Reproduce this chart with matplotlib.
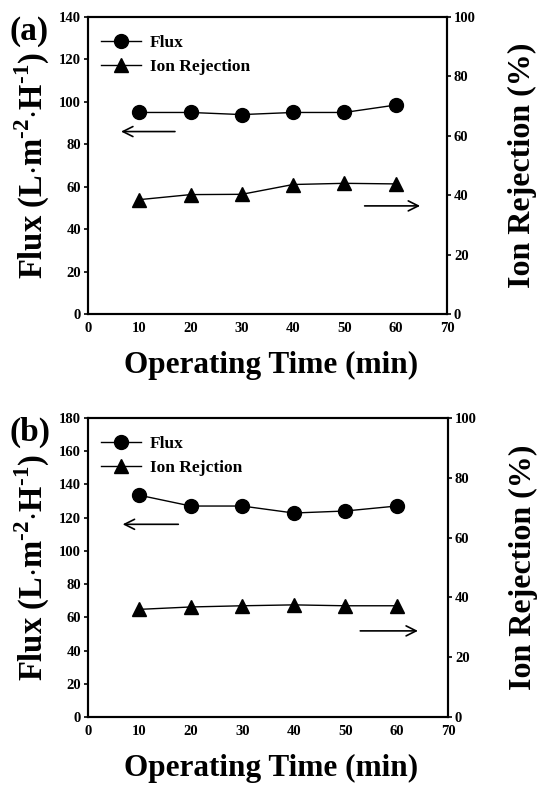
import matplotlib.pyplot as plt
from matplotlib.lines import Line2D

plt.rcParams['font.family'] = ['Liberation Serif', 'DejaVu Serif']
plt.rcParams['font.weight'] = 'bold'
plt.rcParams['mathtext.fontset'] = 'custom'
plt.rcParams['mathtext.rm'] = 'Liberation Serif:bold'
plt.rcParams['mathtext.bf'] = 'Liberation Serif:bold'

time_min = [10, 20, 30, 40, 50, 60]

flux_a = [95, 95, 94, 95, 95, 98.5]
rej_a = [38.5, 40.2, 40.3, 43.6, 44.0, 43.8]

flux_b = [133.5, 127, 127, 122.8, 124, 127]
rej_b = [36.0, 36.8, 37.2, 37.5, 37.2, 37.2]

panels = [
    dict(tag="(a)", flux=flux_a, rej=rej_a, fmax=140, rej_label="Ion Rejection",
         left_arrow=(17.5, 5.9, 86), right_arrow=(53.4, 65.3, 36.4),
         rect=[88 / 542, 1 - 314 / 789, 359 / 542, 297 / 789], xlab_y=1 - 365 / 789),
    dict(tag="(b)", flux=flux_b, rej=rej_b, fmax=180, rej_label="Ion Rejction",
         left_arrow=(18.1, 6.2, 116), right_arrow=(52.4, 64.7, 28.8),
         rect=[88 / 542, 1 - 717 / 789, 360 / 542, 299 / 789], xlab_y=1 - 768 / 789),
]

fig = plt.figure(figsize=(5.42, 7.89), dpi=100)

for p in panels:
    ax = fig.add_axes(p["rect"])
    ax2 = ax.twinx()

    ax.plot(time_min, p["flux"], color="black", lw=1, marker="o", ms=10, zorder=3)
    ax2.plot(time_min, p["rej"], color="black", lw=1, marker="^", ms=10, zorder=3)

    ax.set_xlim(0, 70)
    ax.set_ylim(0, p["fmax"])
    ax2.set_ylim(0, 100)
    ax.set_xticks(range(0, 71, 10))
    ax.set_yticks(range(0, p["fmax"] + 1, 20))
    ax2.set_yticks(range(0, 101, 20))

    for a in (ax, ax2):
        for s in a.spines.values():
            s.set_linewidth(1.5)
        a.tick_params(direction="out", length=3, width=1.2, labelsize=10.5, pad=2)
    ax.tick_params(axis="x", length=0, pad=6)

    ax.set_ylabel(r"Flux (L$\cdot$m$^{\text{-2}}$$\cdot$H$^{\text{-1}}$)", fontsize=23.5,
                  fontweight="bold", labelpad=5)
    ax2.set_ylabel("Ion Rejection (%)", fontsize=23, fontweight="bold", labelpad=23)

    fig.text(0.5, p["xlab_y"], "Operating Time (min)", fontsize=22.5, fontweight="bold",
             ha="center", va="center")
    fig.text(0.017, p["rect"][1] + p["rect"][3] - 0.018, p["tag"], fontsize=24, fontweight="bold",
             ha="left", va="center")

    x0, x1, yv = p["left_arrow"]
    ax.annotate("", xy=(x1, yv), xytext=(x0, yv),
                arrowprops=dict(arrowstyle="->", lw=1.2, color="black", mutation_scale=18))
    x0, x1, yv = p["right_arrow"]
    ax2.annotate("", xy=(x1, yv), xytext=(x0, yv),
                 arrowprops=dict(arrowstyle="->", lw=1.2, color="black", mutation_scale=18))

    handles = [Line2D([], [], color="black", lw=1, marker="o", ms=10),
               Line2D([], [], color="black", lw=1, marker="^", ms=10)]
    ax.legend(handles, ["Flux", p["rej_label"]], loc="upper left", bbox_to_anchor=(0.0, 0.985),
              frameon=False, handlelength=2.3, handletextpad=0.5, borderaxespad=0.35,
              labelspacing=0.45, prop=dict(weight="bold", size=12.5))

fig.savefig("out.png", dpi=100)
